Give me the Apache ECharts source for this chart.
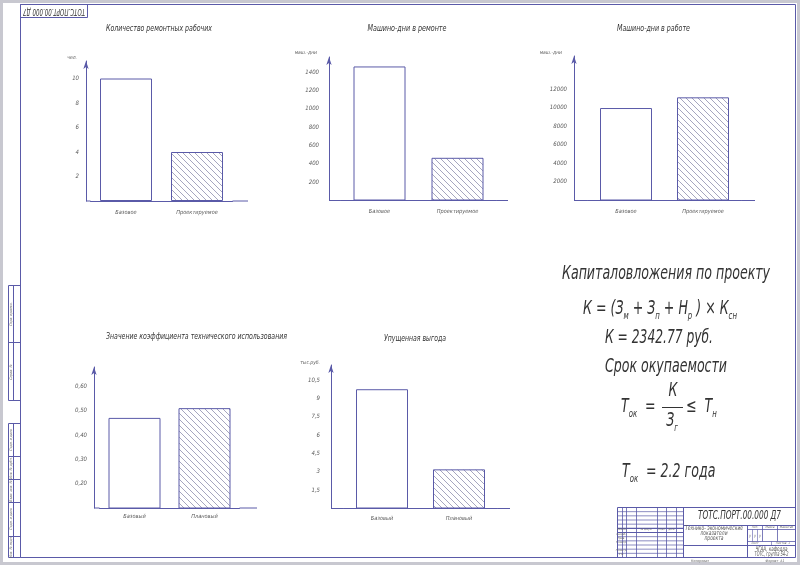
<!DOCTYPE html>
<html><head><meta charset="utf-8">
<script src="https://cdn.jsdelivr.net/npm/echarts@6/dist/echarts.min.js"></script>
<style>html,body{margin:0;padding:0;background:#fff}#c{width:800px;height:565px}</style>
</head><body><div id="c"></div>
<script>
// ---------- data ----------
const workersCats = ['Базовое', 'Проектируемое'];
const workersVals = [10, 4];
const workersTicks = ['2', '4', '6', '8', '10'];

const repairCats = ['Базовое', 'Проектируемое'];
const repairVals = [1460, 465];
const repairTicks = ['200', '400', '600', '800', '1000', '1200', '1400'];

const workCats = ['Базовое', 'Проектируемое'];
const workVals = [9950, 11100];
const workTicks = ['2000', '4000', '6000', '8000', '10000', '12000'];

const ktiCats = ['Базовый', 'Плановый'];
const ktiVals = [0.47, 0.51];
const ktiTicks = ['0,20', '0,30', '0,40', '0,50', '0,60'];

const lossCats = ['Базовый', 'Плановый'];
const lossVals = [9.75, 3.2];
const lossTicks = ['1,5', '3', '4,5', '6', '7,5', '9', '10,5'];

const chartTitles = ['Количество ремонтных рабочих', 'Машино-дни в ремонте', 'Машино-дни в работе',
  'Значение коэффициента технического использования', 'Упущенная выгода'];
const unitNames = ['чел.', 'маш.-дни', 'маш.-дни', '', 'тыс.руб.'];

// ---------- layout / style ----------
const FF = "'Liberation Sans Narrow','DejaVu Sans Condensed','Liberation Sans',sans-serif";
const LINE = '#5a5aa8';
const TXT = '#333';
const LBL = '#5a5a5a';

const cats = [workersCats, repairCats, workCats, ktiCats, lossCats];
const vals = [workersVals, repairVals, workVals, ktiVals, lossVals];
const ticks = [workersTicks, repairTicks, workTicks, ktiTicks, lossTicks];
const fmts = [
  v => String(v), v => String(v), v => String(v),
  v => v.toFixed(2).replace('.', ','),
  v => String(+v.toFixed(2)).replace('.', ',')
];
const L = [
  {ax: 86, left: 90.5, width: 142, end: 248, top: 61, base: 201, min: 0, max: 11.43, interval: 2, lm: 7, cm: 9, ng: 3, np: 9, tx: 159, ty: 29, tw: 106},
  {ax: 329, left: 340.5, width: 156, end: 508, top: 57, base: 200.5, min: 0, max: 1563, interval: 200, lm: 10, cm: 8, ng: 4, np: 12, tx: 407, ty: 29, tw: 79},
  {ax: 574, left: 587.5, width: 154, end: 755, top: 56, base: 200.5, min: 0, max: 15548, interval: 2000, lm: 7, cm: 8, ng: 3, np: 12, tx: 653.5, ty: 29, tw: 73},
  {ax: 94, left: 99.5, width: 140, end: 257, top: 367, base: 508, min: 0.1, max: 0.679, interval: 0.1, lm: 7, cm: 6, ng: 3, np: 10, tx: 196.5, ty: 336.5, tw: 181},
  {ax: 331, left: 343.5, width: 154, end: 510, top: 365, base: 508.5, min: 0, max: 11.73, interval: 1.5, lm: 11, cm: 7, ng: 2, np: 11, tx: 415, ty: 339, tw: 62}
];

const hatchCanvas = (() => {
  const s = 6, c = document.createElement('canvas');
  c.width = s; c.height = s;
  const g = c.getContext('2d');
  g.strokeStyle = '#9c9cb8'; g.lineWidth = 0.9;
  g.beginPath();
  for (const o of [-s, 0, s]) { g.moveTo(o, 0); g.lineTo(o + s, s); }
  g.stroke();
  return c;
})();
const hatchFill = {image: hatchCanvas, repeat: 'repeat'};

const mctx = document.createElement('canvas').getContext('2d');
const mf = s => `italic ${s}px ${FF}`;
function widthOf(text, size) { mctx.font = mf(size); return mctx.measureText(text).width; }
// horizontal squeeze factor so that a text of given font size spans the target width
function sq(text, w, size) { return w / widthOf(text, size); }

// ---------- graphics (frame, texts) ----------
const G = [];
const ln = (x1, y1, x2, y2, w, c) => G.push({type: 'line', silent: true, z: 5,
  shape: {x1, y1, x2, y2}, style: {stroke: c || LINE, lineWidth: w || 1}});
const rc = (x, y, w, h, lw, c) => G.push({type: 'rect', silent: true, z: 5,
  shape: {x, y, width: w, height: h}, style: {fill: 'none', stroke: c || LINE, lineWidth: lw || 1}});
const tx = (text, x, y, size, o = {}) => G.push({type: 'text', silent: true, z: 10, x, y,
  rotation: o.rot || 0, scaleX: o.sx || 1,
  style: {text, fill: o.color || TXT, font: mf(size),
    textAlign: o.align || 'center', textVerticalAlign: 'middle', align: o.align || 'center', verticalAlign: 'middle',
    rich: o.rich}});

// page edge and frame
rc(1.5, 1.5, 797, 562, 3, '#c8c8d0');
rc(20.5, 4.5, 775, 553, 1);

// upside-down stamp
rc(20.5, 4.5, 67, 13, 1);
tx('ТОТС.ПОРТ.00.000 Д7', 54, 11, 9, {rot: Math.PI, sx: sq('ТОТС.ПОРТ.00.000 Д7', 62, 9)});

// left strips
rc(8.5, 285.5, 12, 115, 1);
ln(8.5, 342.5, 20.5, 342.5);
ln(13.5, 285.5, 13.5, 400.5);
rc(8.5, 423.5, 12, 134, 1);
[456.5, 479.5, 502.5, 536.5].forEach(y => ln(8.5, y, 20.5, y));
ln(13.5, 423.5, 13.5, 557.5);
[['Перв. примен.', 314], ['Справ. №', 372], ['Подп. и дата', 440], ['Инв. № дубл.', 468],
 ['Взам. инв. №', 491], ['Подп. и дата', 519], ['Инв. № подл.', 547]].forEach(([t, y]) =>
  tx(t, 11, y, 3.5, {rot: Math.PI / 2, color: '#666'}));

// chart titles and axis line extensions
L.forEach((l, i) => {
  tx(chartTitles[i], l.tx, l.ty, 9.5, {sx: sq(chartTitles[i], l.tw, 9.5)});
  ln(l.ax, l.base, l.left, l.base);
  ln(l.left + l.width, l.base, l.end, l.base);
});

// formulas
const FS = 19;
const FSX = sq('Капиталовложения по проекту', 208, FS);
const rich = {
  m: {font: mf(FS), fill: TXT, lineHeight: 24, verticalAlign: 'middle'},
  s: {font: mf(FS * 0.55), fill: TXT, lineHeight: 12, verticalAlign: 'bottom'}
};
tx('Капиталовложения по проекту', 666, 274, FS, {sx: FSX});
tx('{m|К = (З}{s|м}{m| + З}{s|п}{m| + Н}{s|р}{m| ) × К}{s|сн}', 660, 309, FS, {rich, sx: FSX});
tx('К = 2342.77 руб.', 659, 338, FS, {sx: sq('К = 2342.77 руб.', 108, FS)});
tx('Срок окупаемости', 666, 367, FS, {sx: sq('Срок окупаемости', 122, FS)});
tx('{m|Т}{s|ок}{m|  =}', 621, 407, FS, {rich, align: 'left', sx: FSX});
tx('К', 673, 391, FS, {sx: FSX});
ln(662, 407.5, 683, 407.5, 1, TXT);
tx('{m|З}{s|г}', 672, 421, FS, {rich, sx: FSX});
tx('{m|≤  Т}{s|н}', 686, 407, FS, {rich, align: 'left', sx: FSX});
tx('{m|Т}{s|ок}{m|  = 2.2 года}', 622, 472, FS, {rich, align: 'left', sx: FSX});

// title block
const TB = {x0: 617.5, x1: 795.5, y0: 507.5, y1: 557.5};
ln(TB.x0, TB.y0, TB.x1, TB.y0);
ln(TB.x0, TB.y0, TB.x0, TB.y1);
ln(683.5, TB.y0, 683.5, TB.y1);
[622.5, 626.5, 636.5, 657.5, 666.5, 676.5].forEach(x => ln(x, TB.y0, x, TB.y1, 0.8));
for (let i = 1; i < 12; i++) {
  const y = TB.y0 + i * 50 / 12;
  ln(TB.x0, y, 683.5, y, (i === 5 || i === 6) ? 1.2 : 0.7);
}
ln(683.5, 525.5, TB.x1, 525.5);
ln(747.5, 525.5, 747.5, TB.y1);
ln(747.5, 529.5, TB.x1, 529.5, 0.8);
ln(747.5, 541.5, TB.x1, 541.5, 0.8);
ln(683.5, 545.5, TB.x1, 545.5);
ln(762.5, 525.5, 762.5, 541.5, 0.8);
ln(777.5, 525.5, 777.5, 541.5, 0.8);
ln(752.5, 529.5, 752.5, 541.5, 0.6);
ln(757.5, 529.5, 757.5, 541.5, 0.6);
ln(771.5, 541.5, 771.5, 545.5, 0.6);

tx('ТОТС.ПОРТ.00.000 Д7', 739.5, 516, 12, {sx: sq('ТОТС.ПОРТ.00.000 Д7', 83, 12)});
const tbs = sq('Технико- экономические', 58, 6.5);
tx('Технико- экономические', 714, 528.5, 6.5, {color: '#555', sx: tbs});
tx('показатели', 714, 533.5, 6.5, {color: '#555', sx: tbs});
tx('проекта', 714, 538.5, 6.5, {color: '#555', sx: tbs});
tx('Лит.', 755, 527.5, 3.2, {color: '#666'});
tx('Масса', 770, 527.5, 3.2, {color: '#666'});
tx('Масштаб', 786.5, 527.5, 3.2, {color: '#666'});
['у', 'у', 'у'].forEach((t, k) => tx(t, 750 + k * 5, 536, 4, {color: '#777'}));
tx('Лист', 755, 543.5, 3.2, {color: '#666'});
tx('Листов  1', 783, 543.5, 3.2, {color: '#666'});
tx('ЧГАА, кафедра', 771.5, 549.5, 6.5, {color: '#555', sx: sq('ЧГАА, кафедра', 32, 6.5)});
tx('ТОТС, группа 54-2', 771.5, 554, 6.5, {color: '#555', sx: sq('ТОТС, группа 54-2', 34, 6.5)});
[['Изм.', 620], ['Лист', 624.5], ['№ докум.', 646.5], ['Подп.', 662], ['Дата', 671.5]].forEach(([t, x]) =>
  tx(t, x, 529.8, 2.6, {color: '#666'}));
[['Разраб.', 534], ['Пров.', 538], ['Т.контр.', 542.3], ['Н.контр.', 550.5], ['Утв.', 554.7]].forEach(([t, y]) =>
  tx(t, 621.5, y, 2.8, {color: '#666'}));
tx('Копировал', 700, 561.5, 3.5, {color: '#666'});
tx('Формат  А1', 775, 561.5, 3.5, {color: '#666'});

// ---------- chart ----------
const chart = echarts.init(document.getElementById('c'), null, {renderer: 'canvas'});
const axisFont = {fontSize: 6, fontStyle: 'italic', fontFamily: FF, color: LBL};
chart.setOption({
  animation: false,
  backgroundColor: '#fff',
  grid: L.map(l => ({left: l.left, top: l.top, width: l.width, height: l.base - l.top,
    containLabel: false, outerBoundsMode: 'none'})),
  xAxis: L.map((l, i) => ({
    type: 'category', gridIndex: i, data: cats[i],
    axisLine: {show: true, lineStyle: {color: LINE, width: 1}},
    axisTick: {show: false},
    axisLabel: Object.assign({margin: l.cm, interval: 0}, axisFont, {fontSize: 5.6}),
    splitLine: {show: false}
  })),
  yAxis: L.map((l, i) => ({
    type: 'value', gridIndex: i, min: l.min, max: l.max, interval: l.interval,
    offset: l.left - l.ax,
    name: unitNames[i], nameLocation: 'end', nameGap: l.ng,
    nameTextStyle: {align: 'right', verticalAlign: 'middle', padding: [0, l.np, 0, 0],
      fontSize: 5, fontStyle: 'italic', fontFamily: FF, color: LBL},
    axisLine: {show: true, lineStyle: {color: LINE, width: 1}, symbol: ['none', 'arrow'], symbolSize: [4, 8]},
    axisTick: {show: false},
    splitLine: {show: false},
    axisLabel: Object.assign({margin: l.lm, showMinLabel: true, showMaxLabel: true,
      formatter: v => { const s = fmts[i](v); return ticks[i].includes(s) ? s : ''; }}, axisFont)
  })),
  series: L.map((l, i) => ({
    type: 'bar', xAxisIndex: i, yAxisIndex: i, barWidth: 52, silent: true,
    data: vals[i].map((v, j) => ({value: v,
      itemStyle: {color: j === 0 ? '#fff' : hatchFill, borderColor: LINE, borderWidth: 1}}))
  })),
  graphic: {elements: G}
});
</script>
</body></html>
